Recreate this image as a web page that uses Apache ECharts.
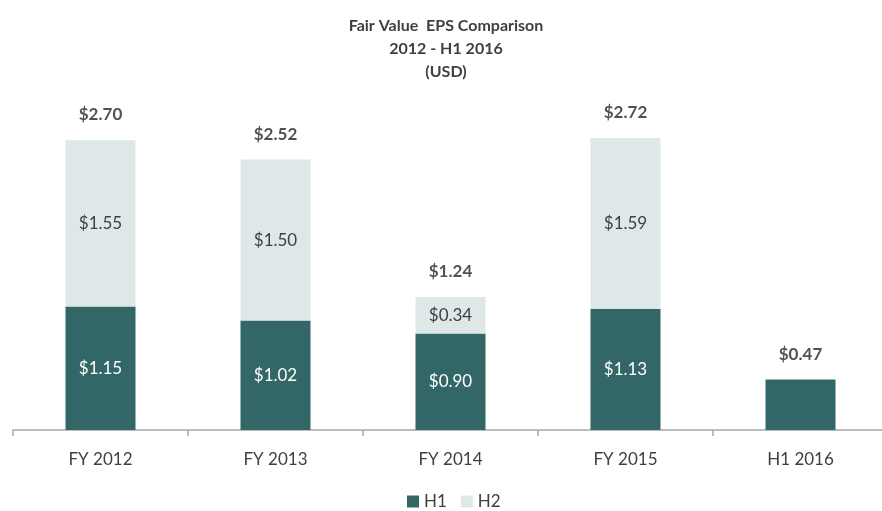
<!DOCTYPE html>
<html>
<head>
<meta charset="utf-8">
<script src="https://cdn.jsdelivr.net/npm/echarts@6/dist/echarts.min.js"></script>
<style>
  html, body { margin: 0; padding: 0; background: #fff; overflow: hidden; }
  #chart { width: 892px; height: 511px; }
</style>
</head>
<body>
<div id="chart"></div>
<script>
// 数据
const categories = ['FY 2012', 'FY 2013', 'FY 2014', 'FY 2015', 'H1 2016'];
const h1Values = [1.15, 1.02, 0.90, 1.13, 0.47];
const h2Values = [1.55, 1.50, 0.34, 1.59, null];
const totals = [2.70, 2.52, 1.24, 2.72, 0.47];

const fontFamily = 'Lato, "Open Sans", sans-serif';
const money = v => '$' + Number(v).toFixed(2);

const chart = echarts.init(document.getElementById('chart'));
chart.setOption({
  animation: false,
  title: {
    text: 'Fair Value  EPS Comparison\n2012 - H1 2016\n(USD)',
    left: 441,
    textAlign: 'center',
    top: 9,
    textStyle: { fontFamily, fontSize: 16, fontWeight: 'bold', color: '#404040', lineHeight: 23 }
  },
  legend: {
    top: 488,
    left: 402,
    itemWidth: 12,
    itemHeight: 12,
    itemGap: 14,
    icon: 'rect',
    data: ['H1', 'H2'],
    textStyle: { fontFamily, fontSize: 17, color: '#404040' }
  },
  grid: { left: 13, top: 108, width: 875, height: 322 },
  xAxis: {
    type: 'category',
    data: categories,
    axisLine: { lineStyle: { color: '#a6a6a6', width: 1.5 } },
    axisTick: { show: true, length: 6, lineStyle: { color: '#a6a6a6', width: 1.5 } },
    axisLabel: { fontFamily, fontSize: 17, color: '#404040', margin: 21 }
  },
  yAxis: {
    type: 'value',
    min: 0,
    max: 3,
    show: false,
    splitLine: { show: false }
  },
  series: [
    {
      name: 'H1',
      type: 'bar',
      stack: 'eps',
      barWidth: 70,
      data: h1Values,
      itemStyle: { color: '#336666' },
      label: {
        show: true,
        position: 'inside',
        formatter: p => (p.dataIndex === 4 ? '' : money(p.value)),
        fontFamily, fontSize: 17, color: '#ffffff'
      }
    },
    {
      name: 'H2',
      type: 'bar',
      stack: 'eps',
      barWidth: 70,
      data: h2Values,
      itemStyle: { color: '#dfe8e9' },
      label: {
        show: true,
        position: 'inside',
        formatter: p => (p.value == null ? '' : money(p.value)),
        fontFamily, fontSize: 17, color: '#404040'
      }
    },
    {
      name: 'Total',
      type: 'scatter',
      data: totals,
      symbolSize: 2,
      itemStyle: { color: 'rgba(0,0,0,0)' },
      silent: true,
      z: 10,
      label: {
        show: true,
        position: 'top',
        distance: 16,
        formatter: p => money(p.value),
        fontFamily, fontSize: 17, fontWeight: 'bold', color: '#262626'
      }
    }
  ]
});
</script>
</body>
</html>
